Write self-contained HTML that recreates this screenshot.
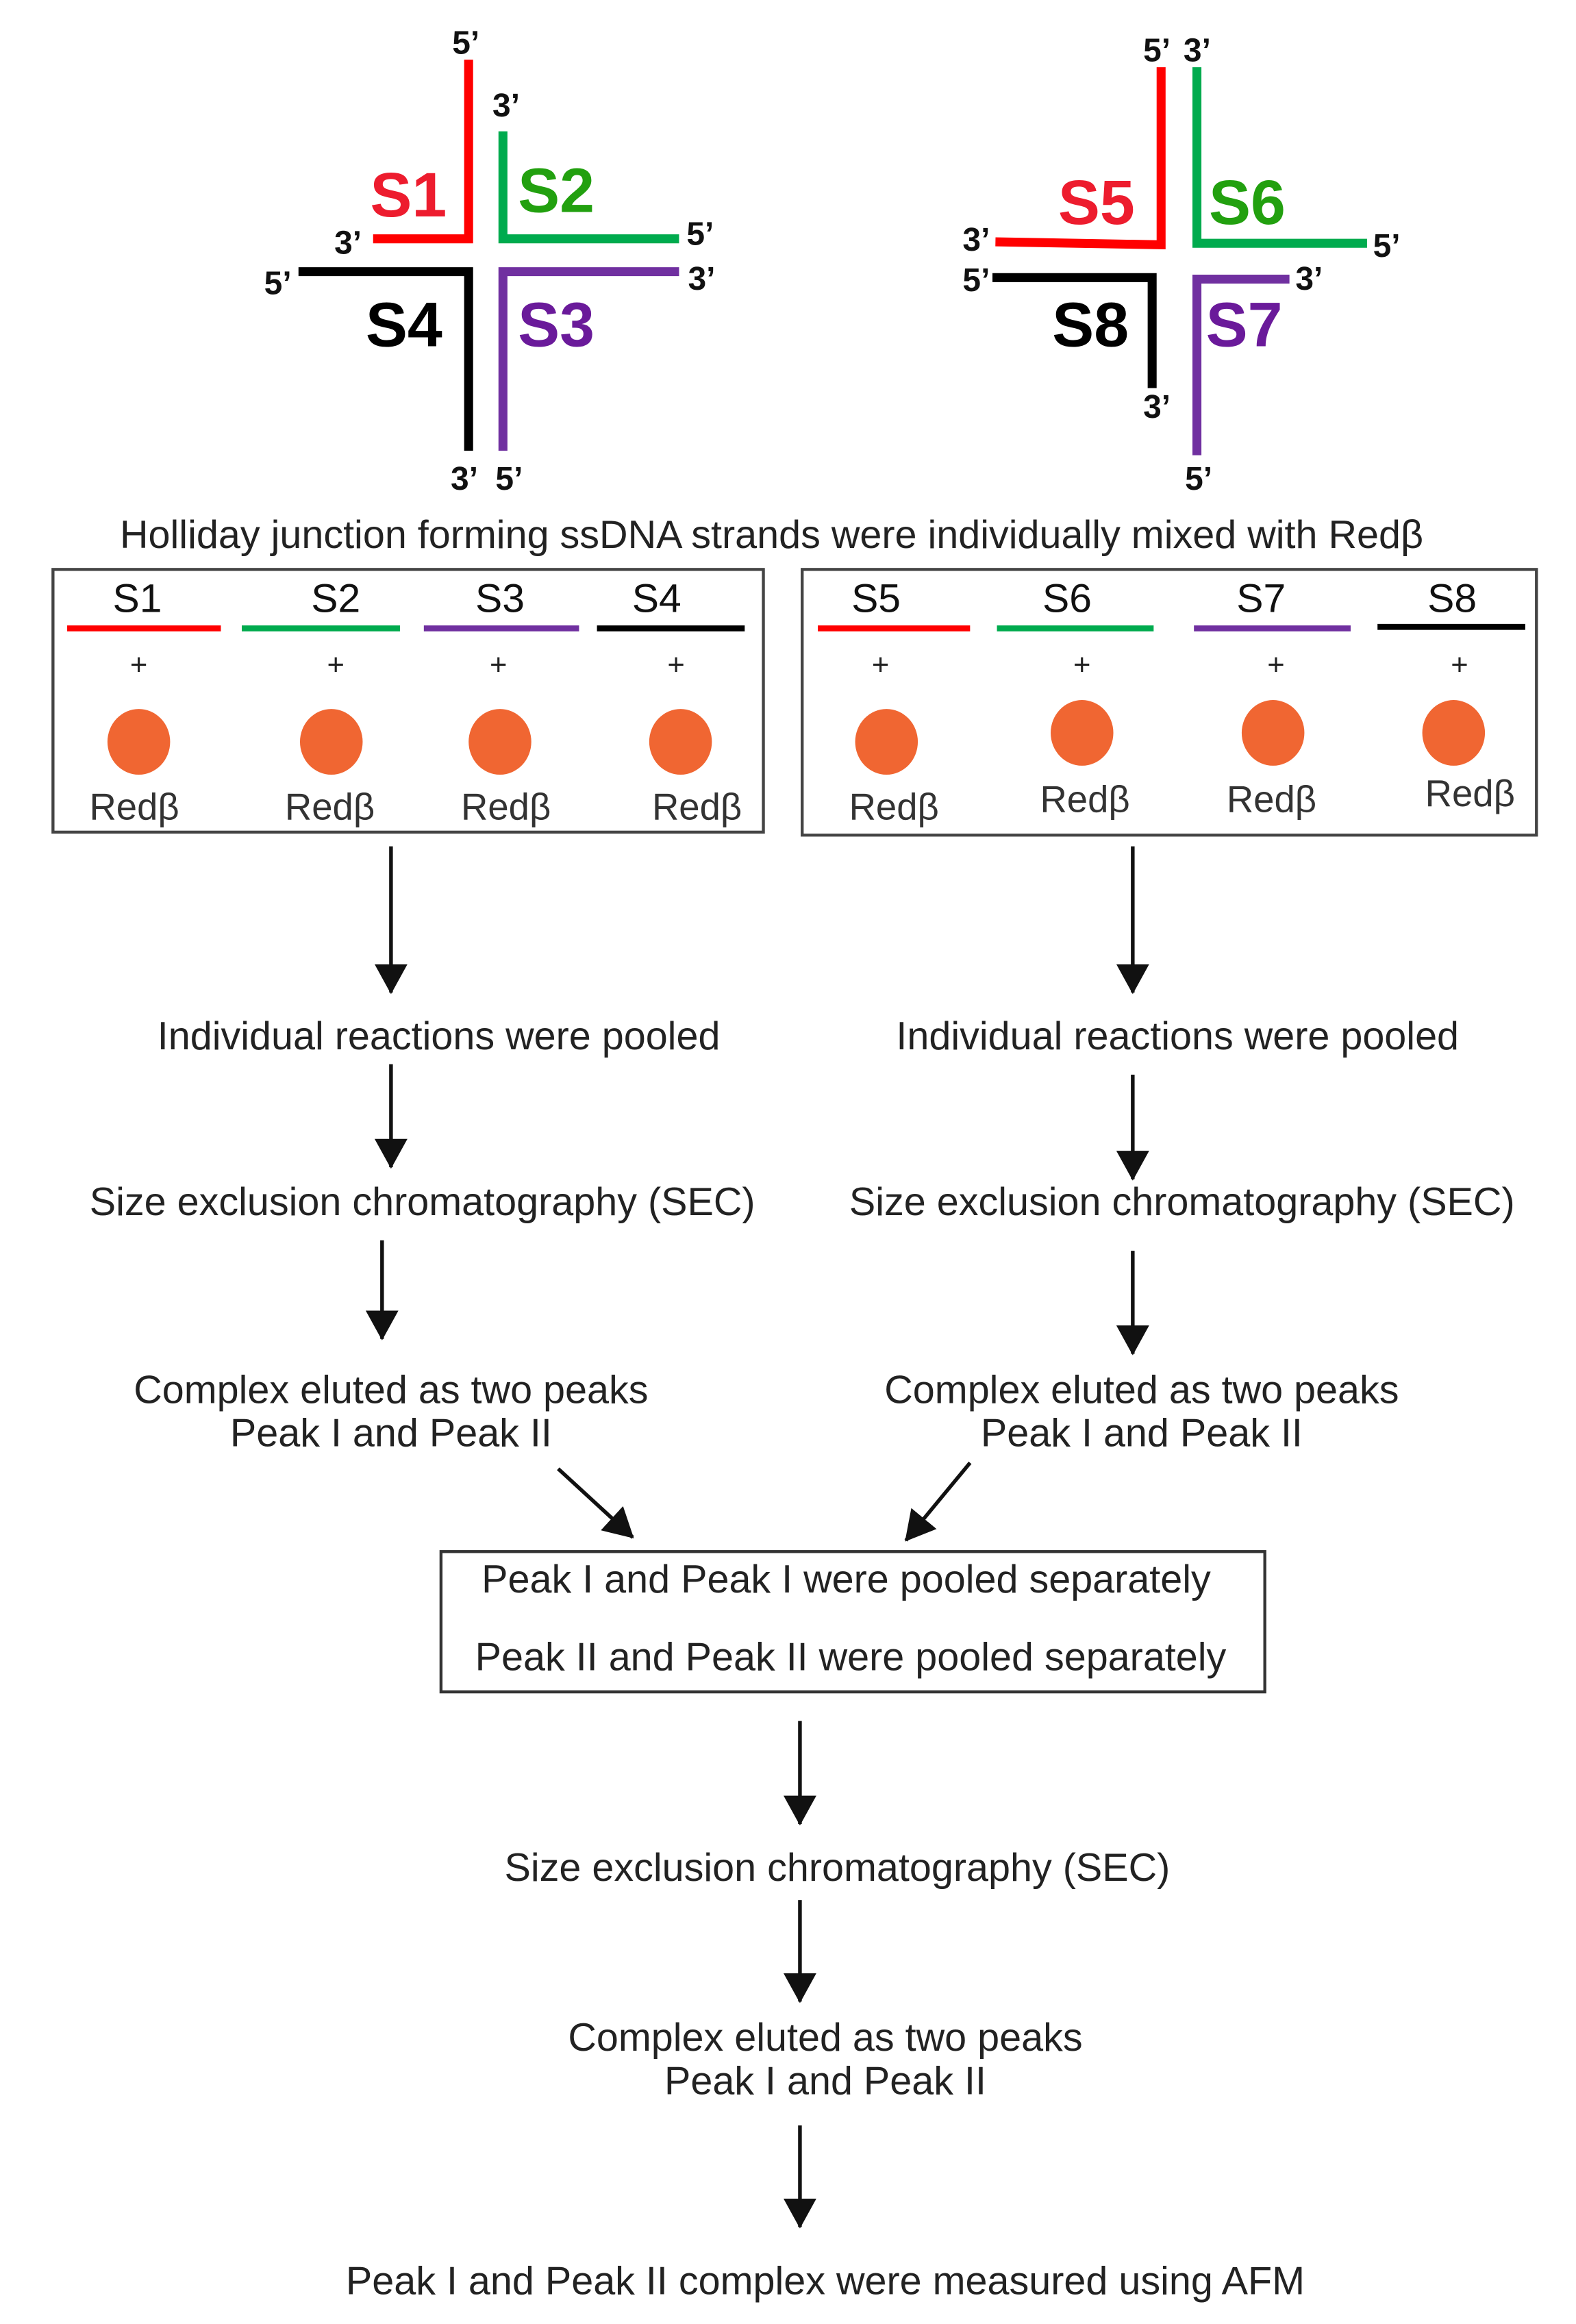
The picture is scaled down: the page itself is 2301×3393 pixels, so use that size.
<!DOCTYPE html>
<html><head><meta charset="utf-8"><style>
html,body{margin:0;padding:0;background:#fff;}
svg{display:block;}
text{font-family:"Liberation Sans",Arial,sans-serif;}
</style></head><body>
<svg width="2301" height="3393" viewBox="0 0 1056 1557" preserveAspectRatio="none" xmlns="http://www.w3.org/2000/svg">
<defs>
<marker id="ah" viewBox="0 0 20 22" refX="19" refY="11" markerWidth="20" markerHeight="22" markerUnits="userSpaceOnUse" orient="auto">
<path d="M0,0 L20,11 L0,22 z" fill="#111"/>
</marker>
</defs>
<g fill="none" stroke-width="6" stroke-linecap="butt" stroke-linejoin="miter">
<polyline points="314,40 314,160 250,160" stroke="#ff0000"/>
<polyline points="337,88 337,160 455,160" stroke="#00ab4e"/>
<polyline points="200,182 314,182 314,302" stroke="#000"/>
<polyline points="455,182 337,182 337,302" stroke="#7030a0"/>
<polyline points="778,45 778,164 667,162" stroke="#ff0000"/>
<polyline points="802,45 802,163 916,163" stroke="#00ab4e"/>
<polyline points="665,186 772,186 772,260" stroke="#000"/>
<polyline points="864,187 802,187 802,305" stroke="#7030a0"/>
</g>
<g font-weight="bold" font-size="22" fill="#111">
<text x="303" y="36">5’</text>
<text x="330" y="78">3’</text>
<text x="224" y="170">3’</text>
<text x="460" y="164">5’</text>
<text x="177" y="197">5’</text>
<text x="461" y="194">3’</text>
<text x="302" y="328">3’</text>
<text x="332" y="328">5’</text>
<text x="766" y="41">5’</text>
<text x="793" y="41">3’</text>
<text x="645" y="168">3’</text>
<text x="920" y="172">5’</text>
<text x="645" y="195">5’</text>
<text x="868" y="194">3’</text>
<text x="766" y="280">3’</text>
<text x="794" y="328">5’</text>
</g>
<g font-weight="bold" font-size="42">
<text x="248" y="145" fill="#ed1c2e">S1</text>
<text x="347" y="142" fill="#22a00f">S2</text>
<text x="245" y="232" fill="#000">S4</text>
<text x="347" y="232" fill="#6a1a9a">S3</text>
<text x="709" y="150" fill="#ed1c2e">S5</text>
<text x="810" y="150" fill="#22a00f">S6</text>
<text x="705" y="232" fill="#000">S8</text>
<text x="808" y="232" fill="#6a1a9a">S7</text>
</g>
<g font-size="26.4" fill="#222" text-anchor="middle">
<text x="517" y="367">Holliday junction forming ssDNA strands were individually mixed with Redβ</text>
</g>
<rect x="35.5" y="381.5" width="476" height="176" fill="none" stroke="#444" stroke-width="2"/>
<rect x="537.5" y="381.5" width="492" height="178" fill="none" stroke="#444" stroke-width="2"/>
<g stroke-width="4">
<line x1="45" y1="421" x2="148" y2="421" stroke="#ff0000"/>
<line x1="162" y1="421" x2="268" y2="421" stroke="#00ab4e"/>
<line x1="284" y1="421" x2="388" y2="421" stroke="#7030a0"/>
<line x1="400" y1="421" x2="499" y2="421" stroke="#000"/>
<line x1="548" y1="421" x2="650" y2="421" stroke="#ff0000"/>
<line x1="668" y1="421" x2="773" y2="421" stroke="#00ab4e"/>
<line x1="800" y1="421" x2="905" y2="421" stroke="#7030a0"/>
<line x1="923" y1="420" x2="1022" y2="420" stroke="#000"/>
</g>
<g font-size="27" fill="#111" text-anchor="middle">
<text x="92" y="410">S1</text><text x="225" y="410">S2</text><text x="335" y="410">S3</text><text x="440" y="410">S4</text>
<text x="587" y="410">S5</text><text x="715" y="410">S6</text><text x="845" y="410">S7</text><text x="973" y="410">S8</text>
</g>
<g font-size="20" fill="#222" text-anchor="middle">
<text x="93" y="452">+</text><text x="225" y="452">+</text><text x="334" y="452">+</text><text x="453" y="452">+</text>
<text x="590" y="452">+</text><text x="725" y="452">+</text><text x="855" y="452">+</text><text x="978" y="452">+</text>
</g>
<g fill="#f06632">
<ellipse cx="93" cy="497" rx="21" ry="22"/><ellipse cx="222" cy="497" rx="21" ry="22"/>
<ellipse cx="335" cy="497" rx="21" ry="22"/><ellipse cx="456" cy="497" rx="21" ry="22"/>
<ellipse cx="594" cy="497" rx="21" ry="22"/><ellipse cx="725" cy="491" rx="21" ry="22"/>
<ellipse cx="853" cy="491" rx="21" ry="22"/><ellipse cx="974" cy="491" rx="21" ry="22"/>
</g>
<g font-size="25" fill="#333" text-anchor="middle">
<text x="90" y="549">Redβ</text><text x="221" y="549">Redβ</text><text x="339" y="549">Redβ</text><text x="467" y="549">Redβ</text>
<text x="599" y="549">Redβ</text><text x="727" y="544">Redβ</text><text x="852" y="544">Redβ</text><text x="985" y="540">Redβ</text>
</g>
<g stroke="#111" stroke-width="2.5" marker-end="url(#ah)">
<line x1="262" y1="567" x2="262" y2="665"/>
<line x1="759" y1="567" x2="759" y2="665"/>
<line x1="262" y1="713" x2="262" y2="782"/>
<line x1="759" y1="720" x2="759" y2="790"/>
<line x1="256" y1="831" x2="256" y2="897"/>
<line x1="759" y1="838" x2="759" y2="907"/>
<line x1="374" y1="984" x2="424" y2="1030"/>
<line x1="650" y1="980" x2="607" y2="1032"/>
<line x1="536" y1="1153" x2="536" y2="1222"/>
<line x1="536" y1="1273" x2="536" y2="1341"/>
<line x1="536" y1="1424" x2="536" y2="1492"/>
</g>
<rect x="295.5" y="1039.5" width="552" height="94" fill="none" stroke="#333" stroke-width="2"/>
<g font-size="26.4" fill="#222" text-anchor="middle">
<text x="294" y="703">Individual reactions were pooled</text>
<text x="789" y="703">Individual reactions were pooled</text>
<text x="283" y="814">Size exclusion chromatography (SEC)</text>
<text x="792" y="814">Size exclusion chromatography (SEC)</text>
<text x="262" y="940">Complex eluted as two peaks</text>
<text x="262" y="969">Peak I and Peak II</text>
<text x="765" y="940">Complex eluted as two peaks</text>
<text x="765" y="969">Peak I and Peak II</text>
<text x="567" y="1067">Peak I and Peak I were pooled separately</text>
<text x="570" y="1119">Peak II and Peak II were pooled separately</text>
<text x="561" y="1260">Size exclusion chromatography (SEC)</text>
<text x="553" y="1374">Complex eluted as two peaks</text>
<text x="553" y="1403">Peak I and Peak II</text>
<text x="553" y="1537">Peak I and Peak II complex were measured using AFM</text>
</g>
</svg>
</body></html>
